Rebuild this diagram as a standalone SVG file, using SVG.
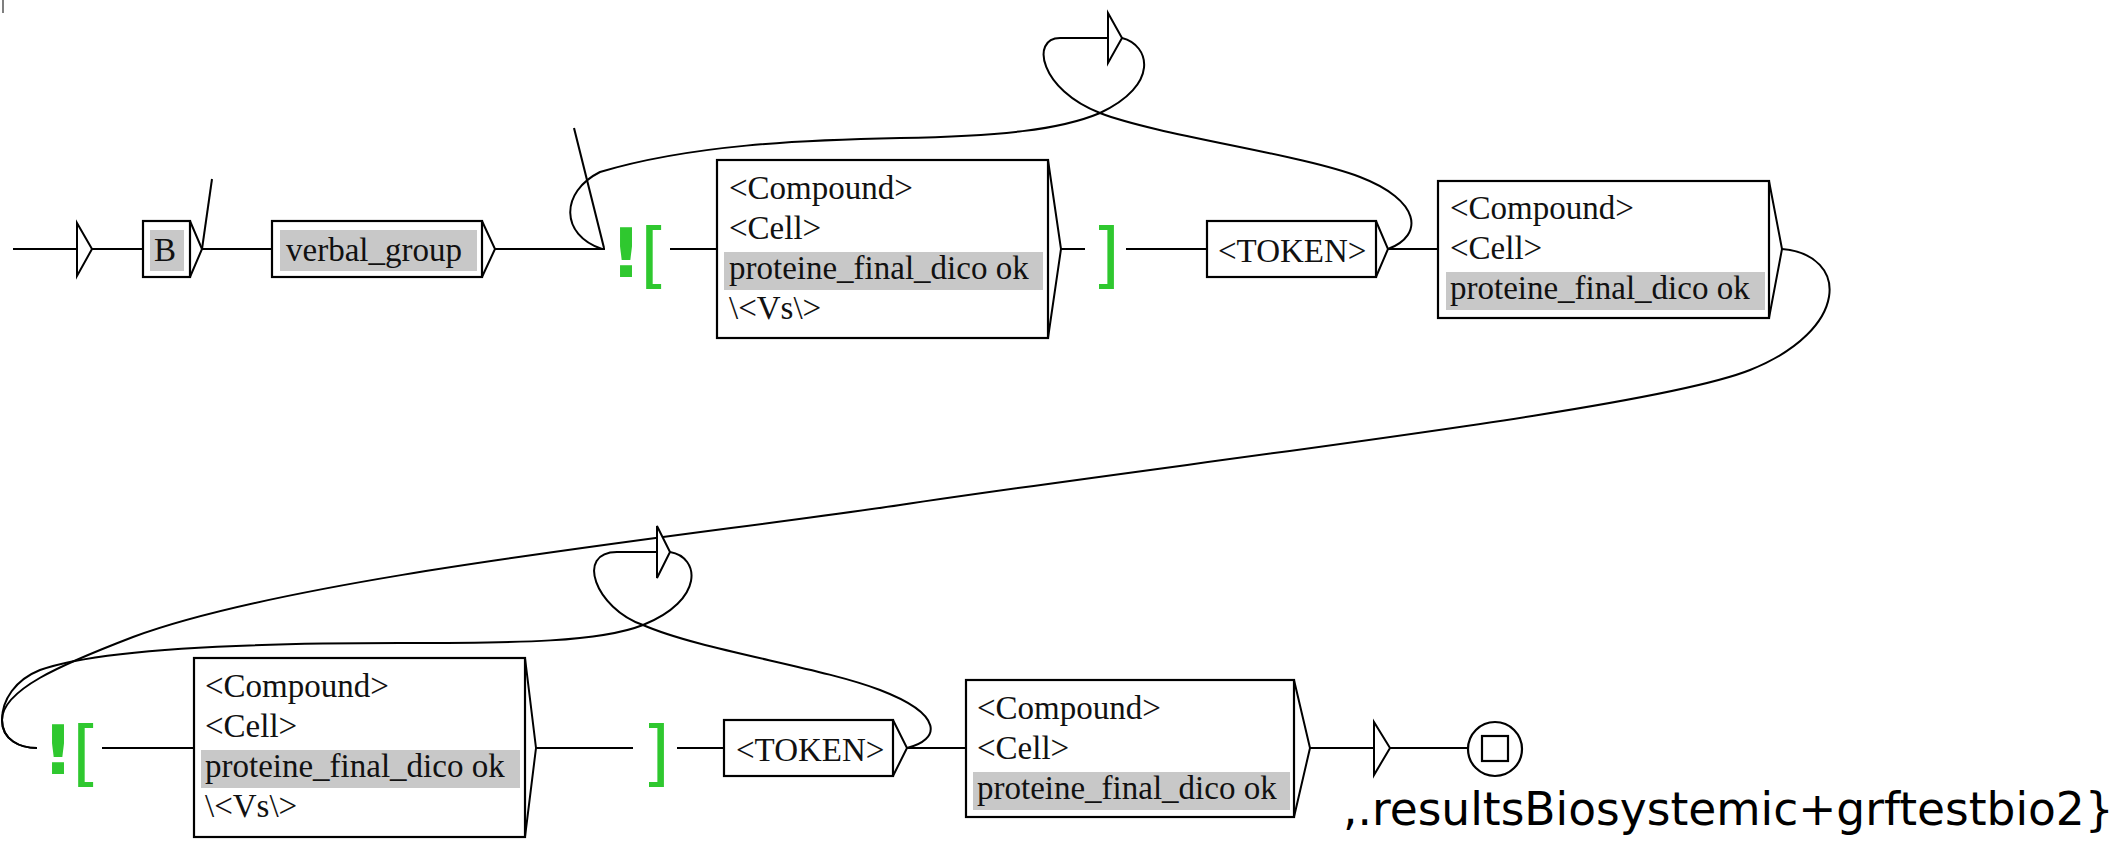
<svg xmlns="http://www.w3.org/2000/svg" width="2117" height="843" viewBox="0 0 2117 843">
  <style>
    .box { fill: #ffffff; stroke: #000000; stroke-width: 2.2; }
    .tip { fill: none; stroke: #000000; stroke-width: 2; stroke-linejoin: miter; }
    .hl { fill: #c8c8c8; }
    .t { font-family: "Liberation Serif", "Times New Roman", serif; font-size: 33px; fill: #111111; }
    .ctx { font-family: "DejaVu Sans", sans-serif; font-size: 72px; fill: #2fc82f; }
    .bang { font-family: "DejaVu Sans", sans-serif; font-weight: bold; font-size: 68px; fill: #2fc82f; text-anchor: middle; }
    .edge { fill: none; stroke: #000000; stroke-width: 2; }
    .arrow { fill: #ffffff; stroke: #000000; stroke-width: 2; }
    .label { font-family: "DejaVu Sans", "Verdana", sans-serif; font-size: 45.5px; fill: #000000; }
  </style>

  <rect x="0" y="0" width="2117" height="843" fill="#ffffff"/>
  <line x1="3" y1="0" x2="3" y2="13" stroke="#555555" stroke-width="1.5"/>

  <!-- transitions -->
  <g id="connectors">
    <line class="edge" x1="13" y1="249" x2="77" y2="249"/>
    <line class="edge" x1="92" y1="249" x2="143" y2="249"/>
    <line class="edge" x1="202" y1="249" x2="272" y2="249"/>
    <line class="edge" x1="202" y1="249" x2="212" y2="179"/>
    <line class="edge" x1="495" y1="249" x2="605" y2="249"/>
    <line class="edge" x1="604" y1="248" x2="574" y2="128"/>
    <line class="edge" x1="670" y1="249" x2="717" y2="249"/>
    <line class="edge" x1="1061" y1="249" x2="1085" y2="249"/>
    <line class="edge" x1="1126" y1="249" x2="1207" y2="249"/>
    <line class="edge" x1="1388" y1="249" x2="1438" y2="249"/>

    <!-- <TOKEN> back to the first context, looping over the top -->
    <path class="edge" d="M1388,249 C1425,235 1420,200 1360,177 C1300,154 1160,136 1100,113 C1040,90 1030,38 1060,38 L1108,38"/>
    <path class="edge" d="M1122,38 C1150,45 1160,85 1100,113 C1060,130 1000,136 900,138 C800,140 690,145 600,172 C560,192 560,235 602,249"/>
    <polygon class="arrow" points="1108,13 1122,38 1108,63"/>

    <!-- second row entry -->
    <path class="edge" d="M1782,249 C1850,255 1850,330 1750,370 C1650,410 1200,460 900,505 C700,535 300,575 133,637 C60,665 2,690 2,720 C2,740 20,748 37,748"/>

    <line class="edge" x1="102" y1="748" x2="194" y2="748"/>
    <line class="edge" x1="536" y1="748" x2="633" y2="748"/>
    <line class="edge" x1="677" y1="748" x2="724" y2="748"/>
    <line class="edge" x1="907" y1="748" x2="966" y2="748"/>
    <line class="edge" x1="1310" y1="748" x2="1374" y2="748"/>
    <line class="edge" x1="1390" y1="748" x2="1468" y2="748"/>

    <!-- second <TOKEN> back to the second context -->
    <path class="edge" d="M907,748 C940,740 945,715 880,690 C820,667 700,650 643,625 C595,608 575,552 617,552 L657,552"/>
    <path class="edge" d="M670,552 C700,557 705,600 643,625 C600,642 520,643 400,643 C250,643 100,648 40,670 C15,680 2,700 2,720 C2,740 20,748 37,748"/>
    <polygon class="arrow" points="657,526 670,552 657,578"/>
  </g>

  <g id="initial">
    <polygon class="arrow" points="77,223 92,249 77,276"/>
  </g>

  <g id="n-B">
    <rect class="box" x="143" y="221" width="47" height="56"/>
    <rect class="hl" x="150" y="230" width="34" height="41"/>
    <text class="t" x="154" y="261">B</text>
    <polyline class="tip" points="190,221 202,249 190,277"/>
  </g>

  <g id="n-verbal-group">
    <rect class="box" x="272" y="221" width="210" height="56"/>
    <rect class="hl" x="280" y="230" width="197" height="41"/>
    <text class="t" x="286" y="261">verbal_group</text>
    <polyline class="tip" points="482,221 495,249 482,277"/>
  </g>

  <g id="ctx1-open">
    <text class="bang" x="626" y="277">!</text>
    <text class="ctx" x="640" y="279">[</text>
  </g>

  <g id="n-box1">
    <rect class="box" x="717" y="160" width="331" height="178"/>
    <rect class="hl" x="724" y="252" width="319" height="38"/>
    <text class="t" x="729" y="199">&lt;Compound&gt;</text>
    <text class="t" x="729" y="239">&lt;Cell&gt;</text>
    <text class="t" x="729" y="279">proteine_final_dico ok</text>
    <text class="t" x="729" y="319">\&lt;Vs\&gt;</text>
    <polyline class="tip" points="1048,160 1061,249 1048,338"/>
  </g>

  <g id="ctx1-close">
    <text class="ctx" x="1092" y="279">]</text>
  </g>

  <g id="n-token1">
    <rect class="box" x="1207" y="221" width="169" height="56"/>
    <text class="t" x="1218" y="262">&lt;TOKEN&gt;</text>
    <polyline class="tip" points="1376,221 1388,249 1376,277"/>
  </g>

  <g id="n-box2">
    <rect class="box" x="1438" y="181" width="331" height="137"/>
    <rect class="hl" x="1446" y="272" width="319" height="38"/>
    <text class="t" x="1450" y="219">&lt;Compound&gt;</text>
    <text class="t" x="1450" y="259">&lt;Cell&gt;</text>
    <text class="t" x="1450" y="299">proteine_final_dico ok</text>
    <polyline class="tip" points="1769,181 1782,249 1769,318"/>
  </g>

  <g id="ctx2-open">
    <text class="bang" x="58" y="774">!</text>
    <text class="ctx" x="72" y="777">[</text>
  </g>

  <g id="n-box3">
    <rect class="box" x="194" y="658" width="331" height="179"/>
    <rect class="hl" x="201" y="750" width="319" height="38"/>
    <text class="t" x="205" y="697">&lt;Compound&gt;</text>
    <text class="t" x="205" y="737">&lt;Cell&gt;</text>
    <text class="t" x="205" y="777">proteine_final_dico ok</text>
    <text class="t" x="205" y="817">\&lt;Vs\&gt;</text>
    <polyline class="tip" points="525,658 536,748 525,837"/>
  </g>

  <g id="ctx2-close">
    <text class="ctx" x="642" y="777">]</text>
  </g>

  <g id="n-token2">
    <rect class="box" x="724" y="720" width="169" height="56"/>
    <text class="t" x="736" y="761">&lt;TOKEN&gt;</text>
    <polyline class="tip" points="893,720 907,748 893,776"/>
  </g>

  <g id="n-box4">
    <rect class="box" x="966" y="680" width="328" height="137"/>
    <rect class="hl" x="973" y="772" width="317" height="38"/>
    <text class="t" x="977" y="719">&lt;Compound&gt;</text>
    <text class="t" x="977" y="759">&lt;Cell&gt;</text>
    <text class="t" x="977" y="799">proteine_final_dico ok</text>
    <polyline class="tip" points="1294,680 1310,748 1294,817"/>
  </g>

  <g id="n-call">
    <polygon class="arrow" points="1374,722 1390,748 1374,775"/>
  </g>

  <g id="final">
    <circle class="box" cx="1495" cy="749" r="27"/>
    <rect class="box" x="1482" y="736" width="26" height="25"/>
  </g>

  <text class="label" x="1343" y="825">,.resultsBiosystemic+grftestbio2}</text>
</svg>
